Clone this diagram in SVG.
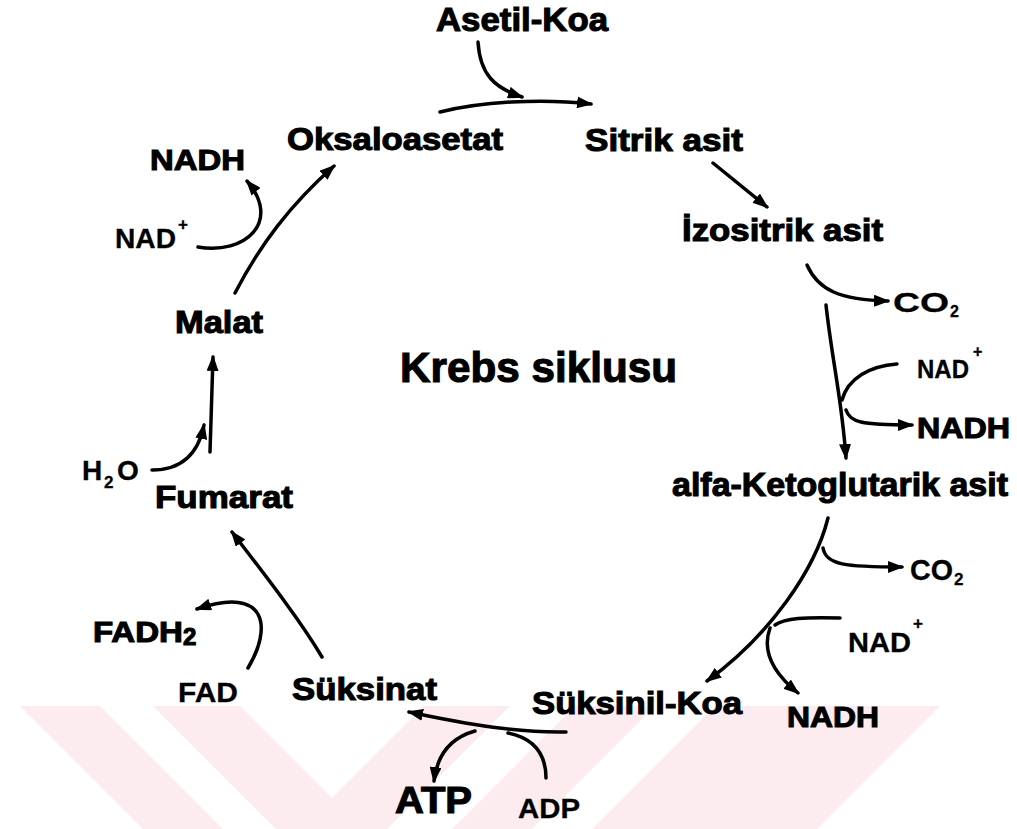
<svg xmlns="http://www.w3.org/2000/svg" width="1017" height="829" viewBox="0 0 1017 829">
  <style>
    .big { font-family: "Liberation Sans", Arial, sans-serif; font-weight: bold; fill: #000; stroke: #000; stroke-width: 1.1; }
    .small { font-family: "Liberation Sans", Arial, sans-serif; font-weight: bold; fill: #000; stroke: #000; stroke-width: 0.3; }
    .conn path { fill: none; stroke: #000; stroke-width: 3.5; stroke-linecap: round; }
    .arrow { marker-end: url(#ah); }
    .wm { fill: #fdecef; }
  </style>
  <defs>
    <marker id="ah" viewBox="0 0 16 12" refX="14" refY="6" markerWidth="16" markerHeight="12" markerUnits="userSpaceOnUse" orient="auto">
      <path d="M0,0 L16,6 L0,12 z" fill="#000"/>
    </marker>
  </defs>

  <rect width="1017" height="829" fill="#fff"/>

  <!-- background chevron band -->
  <g id="watermark">
    <polygon class="wm" points="20,706 100,706 223,829 143,829"/>
    <polygon class="wm" points="153,706 240,706 332,798 424,706 510,706 387,829 276,829"/>
    <polygon class="wm" points="575,706 655,706 532,829 452,829"/>
    <polygon class="wm" points="715,706 940,706 817,829 592,829"/>
  </g>

  <!-- reaction arrows -->
  <g id="connectors" class="conn">
    <path class="arrow" d="M478,42 C480,75 495,88 522,97"/>
    <path class="arrow" d="M440,112 C480,102 540,98 591,104"/>
    <path class="arrow" d="M713,163 L767,207"/>
    <path class="arrow" d="M807,265 C818,290 840,300 888,301"/>
    <path class="arrow" d="M826,305 C832,360 842,400 846,458"/>
    <path d="M897,364 C870,366 848,378 842,400"/>
    <path class="arrow" d="M846,410 C850,422 860,425 912,425"/>
    <path class="arrow" d="M828,518 C815,570 770,635 707,681"/>
    <path class="arrow" d="M823,548 C826,565 845,567 902,567"/>
    <path d="M840,618 C805,617 785,618 775,625"/>
    <path class="arrow" d="M770,628 C762,650 772,672 798,693"/>
    <path class="arrow" d="M566,732 C520,733 470,725 409,712"/>
    <path class="arrow" d="M475,731 C450,738 437,755 434,781"/>
    <path d="M546,778 C546,752 532,738 508,733"/>
    <path class="arrow" d="M322,657 C300,620 265,575 232,532"/>
    <path class="arrow" d="M248,668 C272,628 268,585 197,609"/>
    <path class="arrow" d="M210,452 C211,420 212,390 213,357"/>
    <path class="arrow" d="M152,470 C180,470 198,455 204,425"/>
    <path class="arrow" d="M235,293 C260,245 290,205 334,166"/>
    <path class="arrow" d="M198,247 C245,255 282,222 247,181"/>
  </g>

  <g id="title"><text class="big" x="400" y="382" font-size="42" textLength="277" lengthAdjust="spacingAndGlyphs">Krebs siklusu</text></g>

  <g id="asetil-koa"><text class="big" x="436" y="31" font-size="34" textLength="172" lengthAdjust="spacingAndGlyphs">Asetil-Koa</text></g>
  <g id="oksaloasetat"><text class="big" x="287" y="150" font-size="32" textLength="216" lengthAdjust="spacingAndGlyphs">Oksaloasetat</text></g>
  <g id="sitrik-asit"><text class="big" x="585" y="151" font-size="32" textLength="158" lengthAdjust="spacingAndGlyphs">Sitrik asit</text></g>
  <g id="izositrik-asit"><text class="big" x="682" y="241" font-size="32" textLength="201" lengthAdjust="spacingAndGlyphs">İzositrik asit</text></g>
  <g id="alfa-ketoglutarik-asit"><text class="big" x="672" y="496" font-size="33" textLength="336" lengthAdjust="spacingAndGlyphs">alfa-Ketoglutarik asit</text></g>
  <g id="suksinil-koa"><text class="big" x="532" y="714" font-size="32" textLength="210" lengthAdjust="spacingAndGlyphs">Süksinil-Koa</text></g>
  <g id="suksinat"><text class="big" x="292" y="700" font-size="32" textLength="145" lengthAdjust="spacingAndGlyphs">Süksinat</text></g>
  <g id="fumarat"><text class="big" x="155" y="508" font-size="32" textLength="138" lengthAdjust="spacingAndGlyphs">Fumarat</text></g>
  <g id="malat"><text class="big" x="175" y="333" font-size="32" textLength="88" lengthAdjust="spacingAndGlyphs">Malat</text></g>

  <!-- cofactors -->
  <g id="nadh-1"><text class="big" x="150" y="170" font-size="30" textLength="95" lengthAdjust="spacingAndGlyphs">NADH</text></g>
  <g id="nad-1"><text class="small" x="115" y="248" font-size="27" textLength="61" lengthAdjust="spacingAndGlyphs">NAD</text><text class="small" x="178" y="230" font-size="17">+</text></g>
  <g id="h2o"><text class="small" x="82" y="480" font-size="28">H</text><text class="small" x="104" y="488" font-size="17">2</text><text class="small" x="117" y="480" font-size="28">O</text></g>
  <g id="fadh2"><text class="big" x="93" y="642" font-size="30" textLength="90" lengthAdjust="spacingAndGlyphs">FADH</text><text class="big" x="183" y="645" font-size="24">2</text></g>
  <g id="fad"><text class="small" x="178" y="702" font-size="28" textLength="60" lengthAdjust="spacingAndGlyphs">FAD</text></g>
  <g id="atp"><text class="big" x="395" y="813" font-size="36" textLength="77" lengthAdjust="spacingAndGlyphs">ATP</text></g>
  <g id="adp"><text class="small" x="518" y="818" font-size="27" textLength="62" lengthAdjust="spacingAndGlyphs">ADP</text></g>
  <g id="nadh-3"><text class="big" x="787" y="727" font-size="30" textLength="92" lengthAdjust="spacingAndGlyphs">NADH</text></g>
  <g id="nad-3"><text class="small" x="848" y="652" font-size="27" textLength="63" lengthAdjust="spacingAndGlyphs">NAD</text><text class="small" x="913" y="629" font-size="17">+</text></g>
  <g id="co2-2"><text class="small" x="910" y="580" font-size="30" textLength="43" lengthAdjust="spacingAndGlyphs">CO</text><text class="small" x="954" y="585" font-size="17">2</text></g>
  <g id="co2-1"><text class="small" x="893" y="312" font-size="28" textLength="56" lengthAdjust="spacingAndGlyphs">CO</text><text class="small" x="950" y="317" font-size="16">2</text></g>
  <g id="nad-2"><text class="small" x="917" y="378" font-size="26" textLength="52" lengthAdjust="spacingAndGlyphs">NAD</text><text class="small" x="973" y="357" font-size="16">+</text></g>
  <g id="nadh-2"><text class="big" x="917" y="438" font-size="30" textLength="93" lengthAdjust="spacingAndGlyphs">NADH</text></g>
</svg>
